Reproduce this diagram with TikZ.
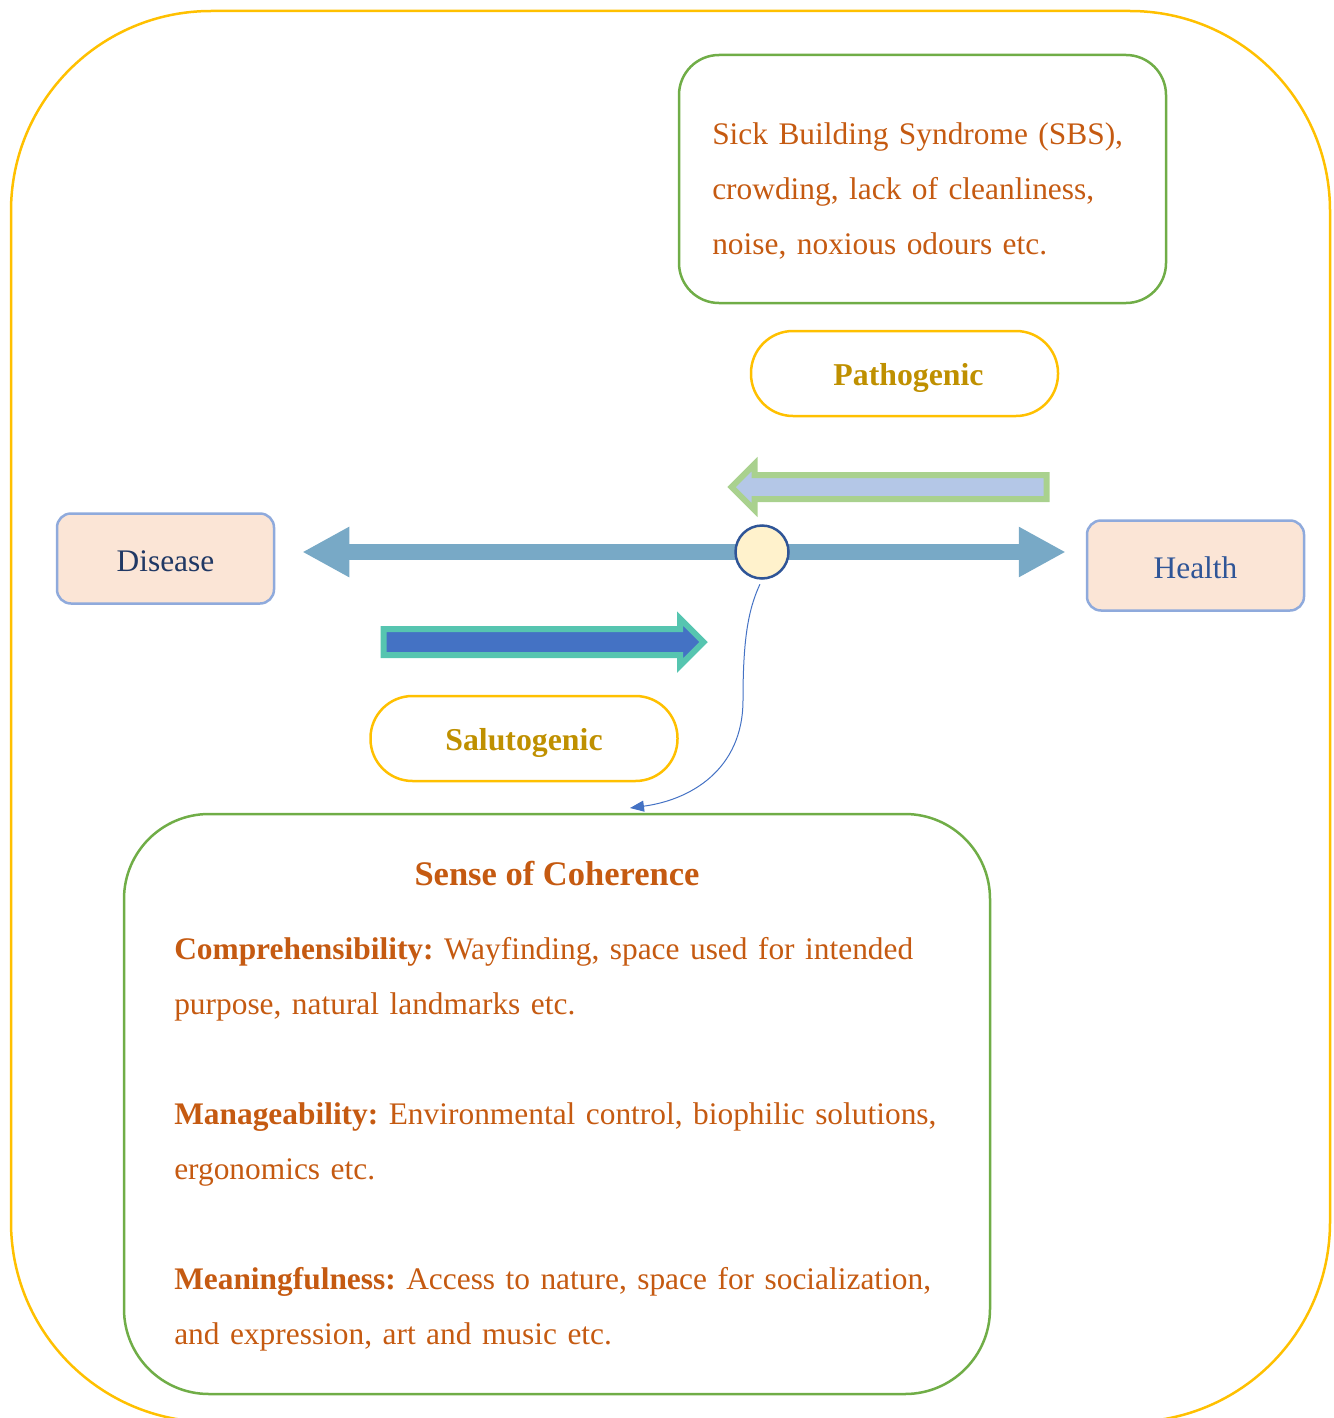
\documentclass[tikz,border=0pt]{standalone}
\usepackage{fontspec}
\setmainfont{Liberation Serif}
\frenchspacing
\usetikzlibrary{arrows.meta,shapes.arrows,backgrounds}
\definecolor{frameyellow}{HTML}{FFC000}
\definecolor{leafgreen}{HTML}{70AD47}
\definecolor{rust}{HTML}{C55A11}
\definecolor{ochre}{HTML}{BF9000}
\definecolor{steel}{HTML}{78A9C6}
\definecolor{peach}{HTML}{FBE5D6}
\definecolor{periwinkle}{HTML}{8FAADC}
\definecolor{navy}{HTML}{203864}
\definecolor{royal}{HTML}{2F5597}
\definecolor{cream}{HTML}{FFF2CC}
\definecolor{lightgreen}{HTML}{A9D18E}
\definecolor{paleblue}{HTML}{B4C7E7}
\definecolor{mint}{HTML}{56C5B0}
\definecolor{cobalt}{HTML}{4472C4}
\begin{document}
\begin{tikzpicture}[x=1pt, y=-1pt, line width=2.5pt, font=\fontsize{31.4}{55}\selectfont,
		card/.style = {draw=leafgreen, rounded corners=40pt, inner sep=0pt},
		pill/.style = {draw=frameyellow, rounded corners=42pt, minimum width=307pt, minimum height=85pt, text height=23pt, text depth=0pt, text=ochre, font=\fontsize{31.8}{55}\selectfont\bfseries},
		endbox/.style = {draw=periwinkle, fill=peach, rounded corners=14pt, minimum width=217pt, minimum height=90pt, text height=25pt, text depth=0pt},
		spine/.style = {draw=steel, line width=16pt, -{Triangle[length=47pt,width=47pt]}},
		blockarrow/.style = {single arrow, line width=6pt, inner xsep=0pt, single arrow head indent=0pt},
		link/.style = {draw=cobalt, line width=1pt, -{Triangle[length=14pt,width=11pt]}}]

		\useasboundingbox (0,0) rectangle (1333,1418);
		\draw[frameyellow, rounded corners=200pt] (11,11) rectangle (1330,1422);

		\node[card, minimum width=487pt, minimum height=248pt] (sbs) at (922.5,179) {};
		\node[anchor=base west, text=rust, text width=440pt, align=left, inner sep=0pt] (sbstext) at (711,144)
			{Sick Building Syndrome (SBS),\\ crowding, lack of cleanliness,\\ noise, noxious odours etc.};

		\node[pill] (patho) at (904.5,373.5) {\hspace*{8pt}Pathogenic};
		\node[pill] (saluto) at (524,738.5) {Salutogenic};

		\node[blockarrow, draw=lightgreen, fill=paleblue, shape border rotate=180, inner ysep=9pt,
			single arrow head extend=11pt, minimum height=315pt] (harm) at (895,487) {};
		\node[blockarrow, draw=mint, fill=cobalt, inner ysep=10pt,
			single arrow head extend=10.5pt, minimum height=320pt] (boost) at (537,642) {};

		\node[endbox, text=navy] (disease) at (165.5,558.5) {Disease};
		\node[endbox, text=royal] (health) at (1195.5,565.5) {Health};
		\node[draw=royal, fill=cream, circle, minimum size=53pt, inner sep=0pt] (hub) at (762,552) {};

		\begin{scope}[on background layer]
			\draw[spine, shorten >=27pt] (hub.center) -- (hub.center -| disease.east);
			\draw[spine, shorten >=20pt] (hub.center) -- (hub.center -| health.west);
		\end{scope}

		\node[card, rounded corners=85pt, minimum width=866pt, minimum height=580pt] (coh) at (557,1104) {};
		\node[anchor=base, text=rust, font=\fontsize{34.5}{40}\selectfont\bfseries, inner sep=0pt] (cohtitle) at (557,885) {Sense of Coherence};
		\node[anchor=base west, text=rust, text width=800pt, align=left, inner sep=0pt] (cohtext) at (173,959)
			{\textbf{Comprehensibility:} Wayfinding, space used for intended\\ purpose, natural landmarks etc.\\[55pt]
			\textbf{Manageability:} Environmental control, biophilic solutions,\\ ergonomics etc.\\[55pt]
			\textbf{Meaningfulness:} Access to nature, space for socialization,\\ and expression, art and music etc.};

		\coordinate (bend) at (743,700);
		\coordinate (tip) at (630,808);
		\draw[link, shorten <=5pt] (hub.south) .. controls (748,610) and (743,640) .. (bend)
			.. controls (743,770) and (690,800) .. (tip);
	\end{tikzpicture}
\end{document}
